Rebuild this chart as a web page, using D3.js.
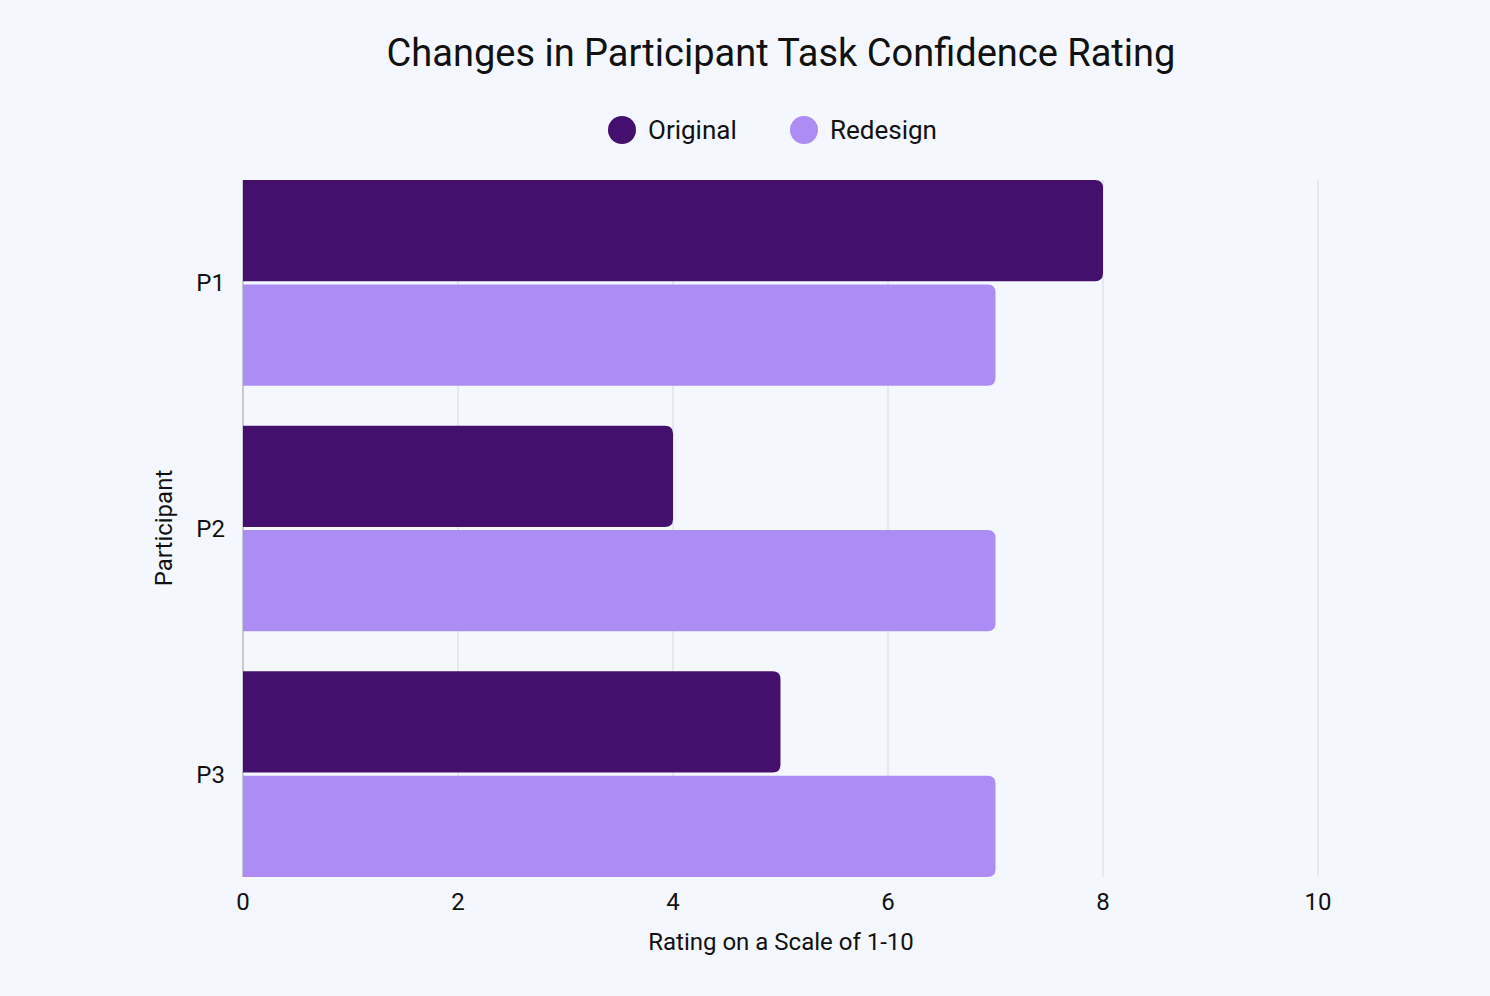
<!DOCTYPE html>
<html><head><meta charset="utf-8">
<script src="https://cdn.jsdelivr.net/npm/d3@7"></script>
<style>body{margin:0;background:#f4f8fe;}svg{display:block;font-family:Roboto,sans-serif;}</style>
</head><body>
<script>
const categories = ["P1","P2","P3"];
const seriesNames = ["Original","Redesign"];
const original = [8,4,5];
const redesign = [7,7,7];
const xTicks = [0,2,4,6,8,10];
const colors = ["#43106e","#ad8cf4"];

const W=1490,H=996;
const svg=d3.select("body").append("svg").attr("width",W).attr("height",H);
svg.append("rect").attr("width",W).attr("height",H).attr("fill","#f4f8fe");
const x=d3.scaleLinear().domain([0,10]).range([243,1318]);
const y=d3.scaleBand().domain(categories).range([180,877]).paddingInner(0.163).paddingOuter(0);
const sub=d3.scaleBand().domain(seriesNames).range([0,y.bandwidth()]).paddingInner(0.03);

// grid
svg.append("g").selectAll("line").data(xTicks.slice(1)).join("line")
 .attr("x1",d=>x(d)).attr("x2",d=>x(d)).attr("y1",180).attr("y2",877)
 .attr("stroke","#d6d9e0").attr("stroke-width",1);
svg.append("line").attr("x1",x(0)).attr("x2",x(0)).attr("y1",180).attr("y2",877).attr("stroke","#9a9ca3");

function rr(x0,y0,w,h,r){r=Math.min(r,w);return `M${x0},${y0}H${x0+w-r}Q${x0+w},${y0} ${x0+w},${y0+r}V${y0+h-r}Q${x0+w},${y0+h} ${x0+w-r},${y0+h}H${x0}Z`;}
const data=[];
categories.forEach((c,i)=>{data.push({c,s:"Original",v:original[i]});data.push({c,s:"Redesign",v:redesign[i]});});
svg.append("g").selectAll("path").data(data).join("path")
 .attr("d",d=>rr(x(0),y(d.c)+sub(d.s),x(d.v)-x(0),sub.bandwidth(),8))
 .attr("fill",d=>colors[seriesNames.indexOf(d.s)]);

// y labels
svg.append("g").selectAll("text").data(categories).join("text")
 .attr("x",225).attr("y",d=>y(d)+y.bandwidth()/2).attr("dy","0.35em")
 .attr("text-anchor","end").attr("font-size",24).attr("fill","#111").text(d=>d);
// x labels
svg.append("g").selectAll("text").data(xTicks).join("text")
 .attr("x",d=>x(d)).attr("y",910).attr("text-anchor","middle").attr("font-size",24).attr("fill","#111").text(d=>d);
svg.append("text").attr("x",781).attr("y",950).attr("text-anchor","middle").attr("font-size",24).attr("fill","#111").text("Rating on a Scale of 1-10");
svg.append("text").attr("transform","translate(172,528) rotate(-90)").attr("text-anchor","middle").attr("font-size",24).attr("fill","#111").text("Participant");
svg.append("text").attr("x",781).attr("y",66).attr("text-anchor","middle").attr("font-size",38).attr("fill","#111").text("Changes in Participant Task Confidence Rating");
// legend
const lg=[{n:"Original",cx:622,tx:648},{n:"Redesign",cx:804,tx:830}];
lg.forEach((l,i)=>{
 svg.append("circle").attr("cx",l.cx).attr("cy",130).attr("r",14).attr("fill",colors[i]);
 svg.append("text").attr("x",l.tx).attr("y",130).attr("dy","0.35em").attr("font-size",26).attr("fill","#111").text(l.n);
});
</script>
</body></html>
